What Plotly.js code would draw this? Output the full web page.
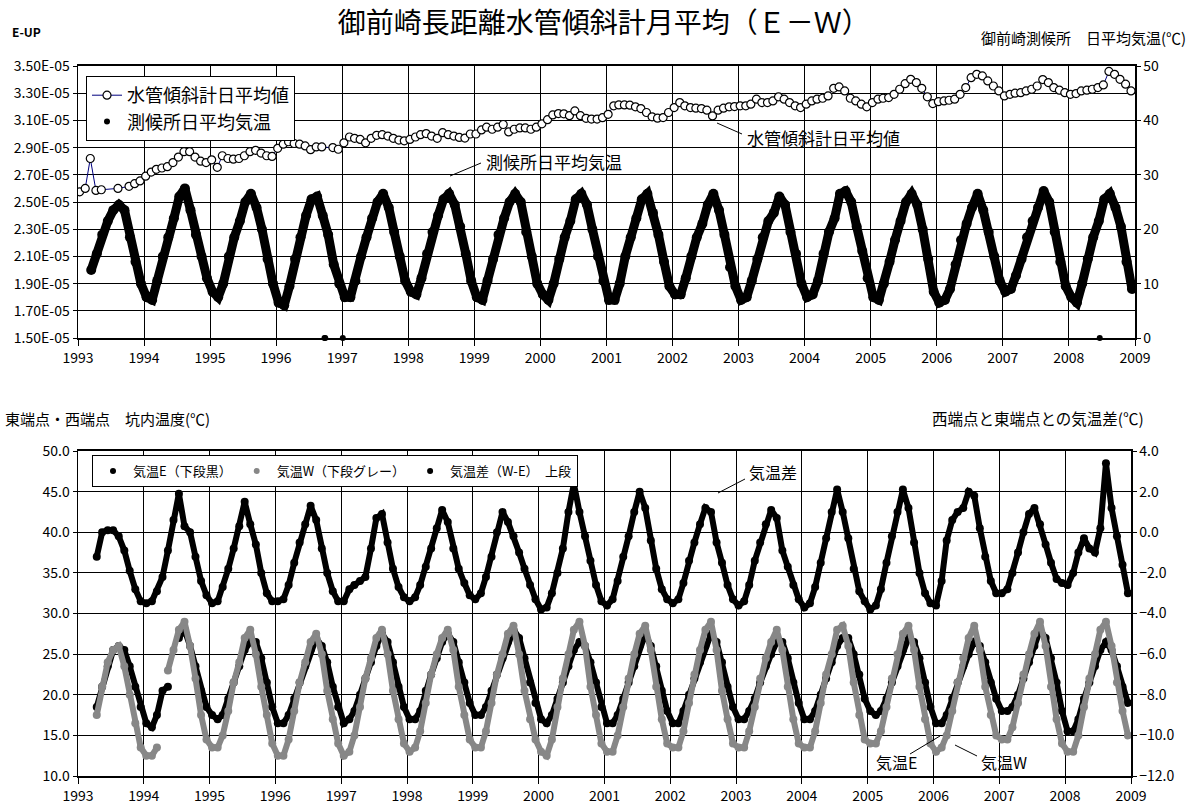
<!DOCTYPE html>
<html><head><meta charset="utf-8">
<script src="https://cdn.plot.ly/plotly-3.0.1.min.js"></script>
<style>html,body{margin:0;padding:0;background:#fff}#chart{width:1198px;height:811px}</style>
</head><body><div id="chart"></div>
<script>
// ---------------- DATA ----------------
const years = [1993,1994,1995,1996,1997,1998,1999,2000,2001,2002,2003,2004,2005,2006,2007,2008];
const tiltTickVals = [1.5,1.7,1.9,2.1,2.3,2.5,2.7,2.9,3.1,3.3,3.5];
const tiltTickText = ['1.50E-05','1.70E-05','1.90E-05','2.10E-05','2.30E-05','2.50E-05','2.70E-05','2.90E-05','3.10E-05','3.30E-05','3.50E-05'];

// water-tube tiltmeter monthly value (x 1E-05), one row per year, Jan..Dec
const tilt = [
 [2.575,2.60,2.82,2.585,2.59,null,null,2.60,null,2.615,2.635,2.655],
 [2.69,2.72,2.74,2.75,2.76,2.79,2.83,2.87,2.87,2.83,2.80,2.79],
 [2.81,2.755,2.84,2.82,2.815,2.82,2.84,2.87,2.88,2.86,2.84,2.835],
 [2.895,2.925,2.943,2.93,2.925,2.912,2.885,2.905,2.905,null,2.90,2.888],
 [2.935,2.978,2.968,2.96,2.935,2.968,2.99,2.995,2.985,2.968,2.955,2.95],
 [2.96,2.978,2.995,3.003,2.985,2.968,3.01,2.995,2.985,2.975,2.97,3.00],
 [3.00,3.03,3.05,3.035,3.05,3.07,3.015,3.035,3.045,3.045,3.035,3.05],
 [3.075,3.105,3.14,3.15,3.148,3.135,3.17,3.135,3.115,3.11,3.11,3.12],
 [3.145,3.207,3.214,3.214,3.212,3.20,3.187,3.158,3.126,3.116,3.121,3.158],
 [3.194,3.231,3.207,3.194,3.19,3.187,3.175,3.133,3.175,3.19,3.20,3.202],
 [3.207,3.207,3.219,3.256,3.231,3.231,3.243,3.273,3.256,3.231,3.207,3.194],
 [3.219,3.243,3.256,3.263,3.28,3.336,3.346,3.317,3.263,3.243,3.219,3.20],
 [3.231,3.256,3.263,3.268,3.292,3.329,3.37,3.402,3.378,3.336,3.273,3.224],
 [3.238,3.243,3.248,3.256,3.292,3.341,3.414,3.439,3.427,3.39,3.353,3.317],
 [3.28,3.292,3.30,3.304,3.317,3.329,3.353,3.40,3.378,3.341,3.322,3.304],
 [3.292,3.297,3.317,3.322,3.329,3.341,3.361,3.46,3.439,3.402,3.366,3.317]
];

// Omaezaki station daily mean air temperature (deg C), band centre per month
const stationTemp = [
 [null,null,12.5,15.5,19,21.5,23.5,24.5,23.5,18.5,14,10],
 [7.5,7,10.5,15,18.5,22,26,27.5,23.5,19,15,11],
 [8.5,7.5,10,15,18.5,21.5,25,26.5,24,20,14.5,10],
 [6.5,6,9.5,14.5,18.5,22.5,25.5,26,22.5,19,13.5,10],
 [7.5,7.5,10.5,15,18.5,22,25,26.5,24,19.5,15,10.5],
 [8.5,8,11,15.5,19.5,22.5,25.5,26.5,24.5,20.5,15.5,10.5],
 [7.5,7,10.5,14.5,19,22,25,26.5,25,19.5,15,10],
 [8,7,10,14.5,18.5,21.5,25.5,26.5,24.5,20,15,10.5],
 [7,7,10,15,18.5,22,25.5,26.5,23,19,14,9.5],
 [8,8,11,15,18.5,21,24.5,26.5,23.5,19,13,9.5],
 [7,7.5,10.5,14.5,18.5,21.5,23,26,24.5,19.5,15.5,10],
 [7.5,8,10.5,15.5,19.5,22,26.5,27,25,20.5,16,11],
 [7.5,7,10,14,18,21.5,25,26.5,24.5,20,14.5,8.5],
 [6.5,7,9,13.5,18,21,24,26.5,23.5,19.5,15,10.5],
 [8.5,9,11.5,14.5,18.5,21.5,24,27,25,19.5,14,9.5],
 [7.5,6.5,10,14.5,18.5,21.5,25.5,26.5,24,20.5,14,9]
];
// isolated zero readings at the station
const stationZeroDates = ['1996-09-25','1996-09-29','1997-01-04','2008-06-20'];
const stationZeroVals = [0,0,0,0];

// tunnel air temperature, east end (deg C)
const tempE = [
 [null,null,null,18.5,21,23.5,25.5,26,25.5,23.5,21,18.5],
 [16.5,16,17.5,20.5,21,null,27,28,26,23.5,20.5,18.5],
 [17.5,17,17.5,19.5,21.5,23.5,25.5,26.5,26.5,24.5,21.5,18.5],
 [16.5,16.5,17.5,19.5,21.5,23.5,25.5,27,26,24,21,18.5],
 [16.5,17,18,20,22,24,26,27.5,26.5,24,21,18.5],
 [17,17,18,20.5,22.5,24.5,26.5,27.5,26.5,24,21.5,19],
 [17.5,17.5,18.5,20.5,22.5,24.5,26.5,28,27,24.5,21.5,19],
 [17,16.5,17.5,19.5,21.5,23.5,25.5,26.5,26,24,21.5,18.5],
 [16.5,16.5,17.5,19.5,21.5,23.5,26,27.5,26,23.5,20.5,18],
 [16.5,16.5,18,20,22,24,26,27.5,26.5,24,21,18.5],
 [17,17,18,19.5,21.5,23.5,25,26.5,26.5,24.5,21.5,19],
 [17,17,18,20,22,24,26,27,27,25,22.5,19.5],
 [18,17.5,18,19.5,21.5,23.5,25.5,27,26.5,24.5,21.5,18.5],
 [16.5,16.5,17.5,19.5,21.5,23.5,25,26.5,26,24,21.5,19.5],
 [18,18,18.5,20,22,24,26,28,27,24.5,21.5,18],
 [15.5,15.5,17,19.5,21.5,23.5,25.5,26.5,25.5,23.5,21,19]
];
// tunnel air temperature, west end (deg C)
const tempW = [
 [null,null,null,17.5,21,24,25.5,26,23.5,20,16.5,13.5],
 [12.5,12.5,13.5,null,23,25.5,28,29,26,22,17.5,14.5],
 [13.5,13.5,15,18,21.5,24,27,28,25,21,17.5,14],
 [12.5,12.5,14.5,18,21.5,24,26.5,27.5,25,20.5,17,14],
 [12.5,13,15,18.5,22,24.5,27,28,25,20.5,17,14],
 [13,13.5,15.5,19,22.5,25,27,28,25.5,21,17.5,14.5],
 [13.5,13.5,15.5,19,22.5,25,27.5,28.5,25,20.5,17,14.5],
 [13,12.5,14.5,18.5,22,25,28,29,26,21,17.5,14],
 [13,13,15,18.5,22,25,27.5,28.5,25.5,21,17,14],
 [13.5,13.5,15.5,19,22.5,25.5,28,29,25.5,20.5,17,14],
 [13.5,13.5,15.5,18.5,22,24.5,26.5,28,25.5,21,17,14],
 [13.5,13.5,15.5,19,22.5,25,28,28.5,26,21.5,17.5,14.5],
 [14,14,15.5,18.5,22,25,27.5,28.5,25.5,21,17,14],
 [13,13.5,15,18,21.5,24.5,27,28.5,25.5,21,17.5,15],
 [14.5,14.5,16,19,22.5,25,27.5,29,26,21,17,14],
 [13,13,15,18.5,22,25,28,29,26,21.5,18,15]
];
// difference W - E (deg C, right axis)
const tempDiff = [
 [null,null,null,-1.2,0.0,0.1,0.1,-0.2,-0.9,-1.9,-2.8,-3.4],
 [-3.5,-3.4,-2.9,-2.2,-0.9,0.6,1.9,0.3,0.0,-1.2,-2.4,-3.1],
 [-3.5,-3.4,-2.7,-1.8,-0.8,0.3,1.5,0.4,-0.6,-2.0,-3.0,-3.4],
 [-3.4,-3.3,-2.6,-1.5,-0.5,0.4,1.3,0.6,-0.8,-2.0,-2.9,-3.4],
 [-3.4,-2.8,-2.6,-2.4,-2.2,-0.8,0.7,0.9,-0.5,-1.8,-2.7,-3.2],
 [-3.4,-3.2,-2.6,-1.7,-0.8,0.2,1.1,0.5,-0.8,-1.8,-2.5,-3.1],
 [-3.3,-3.0,-2.2,-1.2,0.0,1.0,0.5,-0.2,-1.0,-1.8,-2.6,-3.3],
 [-3.8,-3.7,-3.0,-2.0,-0.8,1.0,2.4,1.0,-0.2,-1.4,-2.6,-3.4],
 [-3.6,-3.3,-2.4,-1.2,-0.2,1.0,2.0,1.2,-0.4,-1.8,-2.8,-3.3],
 [-3.5,-3.3,-2.5,-1.4,-0.5,0.4,1.2,1.0,-0.5,-1.5,-2.6,-3.3],
 [-3.6,-3.4,-2.6,-1.4,-0.5,0.4,1.1,0.7,-0.9,-1.7,-2.6,-3.3],
 [-3.7,-3.5,-2.7,-1.5,-0.3,1.0,2.1,1.0,-0.3,-1.8,-2.9,-3.4],
 [-3.8,-3.6,-2.8,-1.5,-0.2,1.0,2.1,1.2,-0.5,-2.0,-3.0,-3.5],
 [-3.6,-2.4,-0.4,0.6,1.0,1.2,2.0,1.8,0.2,-1.2,-2.4,-3.0],
 [-3.0,-2.8,-2.0,-1.0,0.0,0.9,1.2,0.4,-0.6,-1.5,-2.3,-2.5],
 [-2.6,-2.0,-1.0,-0.3,-0.8,-1.0,0.2,3.4,1.2,-0.2,-1.6,-3.0]
];

const seriesNames = {
  tilt:'水管傾斜計日平均値', station:'測候所日平均気温',
  e:'気温E（下段黒）', w:'気温W（下段グレー）', d:'気温差（W-E）　上段'
};

// ---------------- BUILD ----------------
function monthX(day){
  const out=[];
  years.forEach(y=>{for(let m=1;m<=12;m++){out.push(y+'-'+String(m).padStart(2,'0')+'-'+day);}});
  return out;
}
const flat = a => a.reduce((acc,r)=>acc.concat(r),[]);
const xTilt = monthX('10');
const xMid = monthX('15');

const W=1198,H=811;
const px = v => v/W;
const py = v => 1 - v/H;
const FONT = '"Noto Sans CJK JP", "Noto Sans", sans-serif';
const GRAY = '#878787';

function band(xs, ys, color, width, msize, xa, ya){
  return {x:xs, y:ys, type:'scatter', mode:'lines+markers', showlegend:false, xaxis:xa, yaxis:ya,
          line:{color:color, width:width}, marker:{size:msize, color:color}};
}
function dots(xs, ys, color, name, xa, ya, leg){
  return {x:xs, y:ys, type:'scatter', mode:'markers', name:name, xaxis:xa, yaxis:ya, legend:leg,
          marker:{size:6, color:color}};
}

const station = flat(stationTemp), eVals = flat(tempE), wVals = flat(tempW), dVals = flat(tempDiff);

const traces = [
 {x:xTilt, y:flat(tilt), type:'scatter', mode:'lines+markers', connectgaps:true,
  name:seriesNames.tilt, xaxis:'x', yaxis:'y', legend:'legend',
  line:{color:'#00007f', width:1},
  marker:{symbol:'circle', size:8, color:'#fff', line:{color:'#000', width:1.2}}},
 dots(xMid, station, '#000', seriesNames.station, 'x', 'y2', 'legend'),
 band(xMid, station, '#000', 9, 10, 'x', 'y2'),
 {x:stationZeroDates, y:stationZeroVals, type:'scatter', mode:'markers', showlegend:false, xaxis:'x', yaxis:'y2',
  cliponaxis:false, marker:{size:6, color:'#000'}},
 dots(xMid, eVals, '#000', seriesNames.e, 'x2', 'y3', 'legend2'),
 dots(xMid, wVals, GRAY, seriesNames.w, 'x2', 'y3', 'legend2'),
 dots(xMid, dVals, '#000', seriesNames.d, 'x2', 'y4', 'legend2'),
 band(xMid, eVals, '#000', 6, 8, 'x2', 'y3'),
 band(xMid, wVals, GRAY, 6, 8, 'x2', 'y3'),
 band(xMid, dVals, '#000', 6, 8, 'x2', 'y4')
];

const tickFont = {family:FONT, size:14, color:'#000'};
const xCommon = {type:'date', range:['1993-01-01','2009-01-01'], dtick:'M12', tick0:'1993-01-01', tickformat:'%Y',
  showgrid:true, gridcolor:'#000', gridwidth:1, showline:true, linecolor:'#000', linewidth:2, mirror:true,
  ticks:'outside', ticklen:6, tickcolor:'#000', tickfont:tickFont, zeroline:false};

function note(text, x, y, size, anchor){
  return {text:text, x:px(x), y:py(y), xref:'paper', yref:'paper', xanchor:anchor||'left', yanchor:'middle',
          showarrow:false, font:{family:FONT, size:size, color:'#000'}};
}
function leader(x0,y0,x1,y1){
  return {type:'line', xref:'paper', yref:'paper', x0:px(x0), y0:py(y0), x1:px(x1), y1:py(y1), line:{color:'#000', width:1}};
}

const layout = {
  width:W, height:H, margin:{l:0,r:0,t:0,b:0}, paper_bgcolor:'#fff', plot_bgcolor:'#fff',
  font:{family:FONT, color:'#000'},
  title:{text:'御前崎長距離水管傾斜計月平均（Ｅ－Ｗ）', x:0.504, xanchor:'center', y:py(23), yanchor:'middle',
         font:{family:FONT, size:28, color:'#000'}},
  showlegend:true,
  xaxis:Object.assign({}, xCommon, {domain:[px(78),px(1135)], anchor:'y'}),
  yaxis:{domain:[py(338),py(66)], range:[1.5,3.5], tickvals:tiltTickVals, ticktext:tiltTickText, anchor:'x',
    showgrid:true, gridcolor:'#000', gridwidth:1, showline:true, linecolor:'#000', linewidth:1.5,
    ticks:'outside', ticklen:4, tickcolor:'#000', tickfont:tickFont, zeroline:false},
  yaxis2:{overlaying:'y', side:'right', anchor:'x', range:[0,50], dtick:10, showgrid:false, showline:true,
    linecolor:'#000', linewidth:1.5, ticks:'outside', ticklen:4, tickcolor:'#000', tickfont:tickFont, zeroline:false},
  xaxis2:Object.assign({}, xCommon, {domain:[px(78),px(1131)], anchor:'y3'}),
  yaxis3:{domain:[py(776),py(451)], range:[10,50], dtick:5, tickformat:'.1f', anchor:'x2',
    showgrid:true, gridcolor:'#000', gridwidth:1, showline:true, linecolor:'#000', linewidth:1.5,
    ticks:'outside', ticklen:4, tickcolor:'#000', tickfont:tickFont, zeroline:false},
  yaxis4:{overlaying:'y3', side:'right', anchor:'x2', range:[-12,4], dtick:2, tickformat:'.1f', showgrid:false,
    showline:true, linecolor:'#000', linewidth:1.5, ticks:'outside', ticklen:4, tickcolor:'#000', tickfont:tickFont, zeroline:false},
  legend:{x:px(86), y:py(76), xanchor:'left', yanchor:'top', bgcolor:'#fff', bordercolor:'#000', borderwidth:1,
    font:{family:FONT, size:18, color:'#000'}, tracegroupgap:0, itemwidth:30, itemsizing:'trace'},
  legend2:{orientation:'h', x:px(92), y:py(455), xanchor:'left', yanchor:'top', bgcolor:'#fff', bordercolor:'#000',
    borderwidth:1, font:{family:FONT, size:13, color:'#000'}, itemwidth:30, itemsizing:'trace'},
  annotations:[
    note('<b>E-UP</b>', 10, 32, 12),
    note('御前崎測候所　日平均気温(℃)', 1188, 37, 15, 'right'),
    note('東端点・西端点　坑内温度(℃)', 3, 418, 15),
    note('西端点と東端点との気温差(℃)', 1146, 418, 15.5, 'right'),
    note('水管傾斜計日平均値', 745, 137, 17),
    note('測候所日平均気温', 484, 161, 17),
    note('気温差', 747, 472, 16),
    note('気温E', 874, 762, 16),
    note('気温W', 979, 762, 16)
  ],
  shapes:[
    leader(717,123,742,134),
    leader(450,176,481,163),
    leader(718,493,745,479),
    leader(940,736,910,754),
    leader(955,745,977,756)
  ]
};

Plotly.newPlot('chart', traces, layout, {staticPlot:true, displayModeBar:false});
</script>
</body></html>
